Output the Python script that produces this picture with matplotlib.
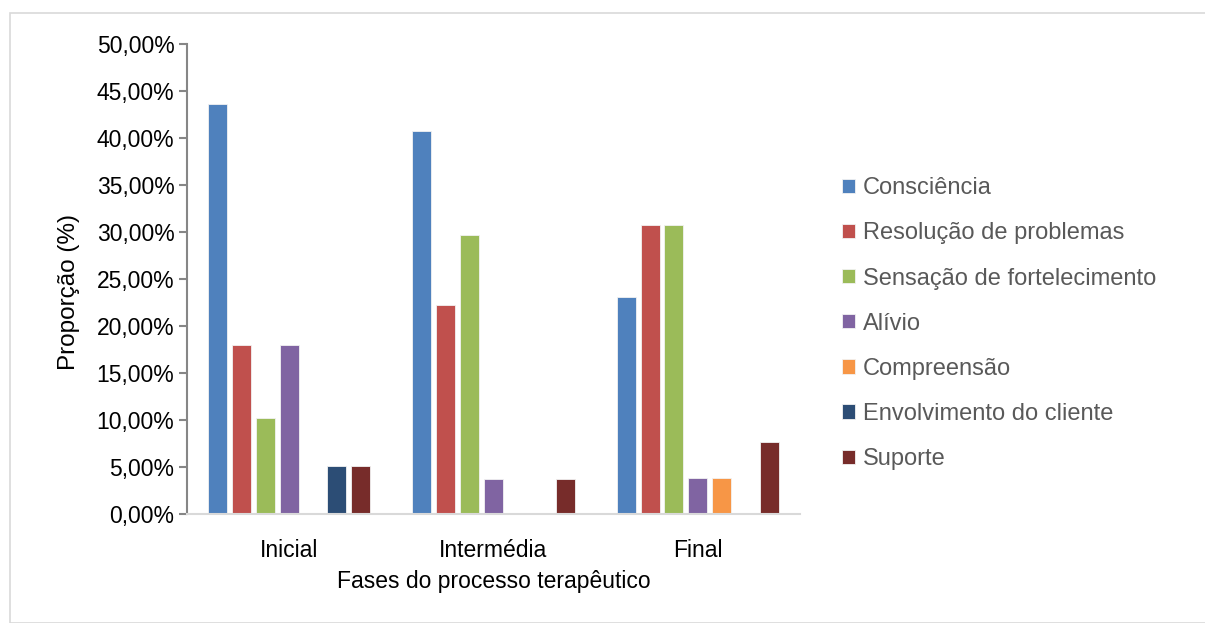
import numpy as np
import matplotlib
matplotlib.use("Agg")
import matplotlib.pyplot as plt
from matplotlib.patches import Rectangle
from matplotlib.ticker import FuncFormatter

plt.rcParams['font.family'] = ['Liberation Sans', 'DejaVu Sans']

# fases e categorias
fases = ["Inicial", "Intermédia", "Final"]
categorias = ["Consciência", "Resolução de problemas", "Sensação de fortelecimento",
              "Alívio", "Compreensão", "Envolvimento do cliente", "Suporte"]
cores = ["#4F81BD", "#C0504D", "#9BBB59", "#8064A2", "#F79646", "#2C4D75", "#772C2A"]

# proporções (%) por categoria, uma entrada por fase
consciencia = [43.59, 40.74, 23.08]
resolucao = [17.95, 22.22, 30.77]
sensacao = [10.26, 29.63, 30.77]
alivio = [17.95, 3.70, 3.85]
compreensao = [0.0, 0.0, 3.85]
envolvimento = [5.13, 0.0, 0.0]
suporte = [5.13, 3.70, 7.69]
valores = [consciencia, resolucao, sensacao, alivio, compreensao, envolvimento, suporte]

fig = plt.figure(figsize=(12.05, 6.23), dpi=100)
fig.patches.append(Rectangle((10 / 1205, 0), 1.0, 1 - 13 / 623, transform=fig.transFigure,
                             fill=False, edgecolor="#D9D9D9", linewidth=1.2))
ax = fig.add_axes([187 / 1205, 1 - 514 / 623, 613 / 1205, 470 / 623])

x = np.arange(len(fases))
passo = 0.117
largura = 0.093
for i, (nome, serie, cor) in enumerate(zip(categorias, valores, cores)):
    ax.bar(x + (i - 3) * passo, serie, width=largura, color=cor, label=nome,
           edgecolor="#F2F2F2", linewidth=0.6)

ax.set_xlim(-0.5, 2.5)
ax.set_ylim(0, 50)
ax.set_yticks(np.arange(0, 51, 5))
ax.yaxis.set_major_formatter(FuncFormatter(lambda v, p: f"{v:.2f}%".replace(".", ",")))
ax.set_xticks(x)
ax.set_xticklabels(fases)
ax.tick_params(axis="y", labelsize=16.5, length=6, width=1.5, color="#868686", pad=3)
ax.tick_params(axis="x", labelsize=16.5, length=0, pad=18)

for s in ["top", "right"]:
    ax.spines[s].set_visible(False)
ax.spines["left"].set_color("#868686")
ax.spines["left"].set_linewidth(1.5)
ax.spines["bottom"].set_color("#D9D9D9")
ax.spines["bottom"].set_linewidth(1.5)

ax.set_ylabel("Proporção (%)", fontsize=17.5, labelpad=12)
ax.yaxis.label.set_y(0.472)
ax.set_xlabel("Fases do processo terapêutico", fontsize=16.5, labelpad=6)

leg = ax.legend(loc="center left", bbox_to_anchor=(1.069, 0.405), frameon=False,
                fontsize=17, handlelength=0.55, handleheight=0.55, handletextpad=0.33,
                labelspacing=0.98, borderpad=0, borderaxespad=0)
for t in leg.get_texts():
    t.set_color("#595959")

fig.savefig("out.png", dpi=100)
